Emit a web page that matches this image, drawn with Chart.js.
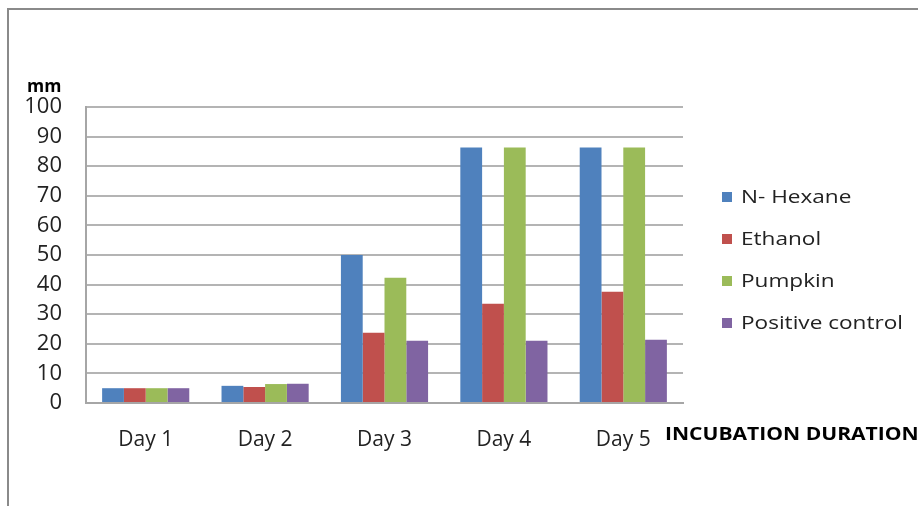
<!DOCTYPE html>
<html>
<head>
<meta charset="utf-8">
<script src="https://cdn.jsdelivr.net/npm/chart.js@4"></script>
<style>
  body { margin: 0; background: #fff; }
  #wrap { position: relative; width: 918px; height: 506px; overflow: hidden; font-family: "Open Sans", sans-serif; }
  #frame { position: absolute; left: 7px; top: 8px; width: 1000px; height: 600px; border-top: 2px solid #8a8a8a; border-left: 2px solid #8a8a8a; }
  #myChart { position: absolute; left: 0; top: 0; }
  .ylab { position: absolute; left: 27px; top: 73px; font-weight: bold; font-size: 17.5px; color: #000; }
  .xlab { position: absolute; left: 665px; top: 421px; font-weight: bold; font-size: 18px; color: #000; white-space: nowrap; transform: scaleX(1.17); transform-origin: left center; }
  #legend { position: absolute; left: 722px; top: 184px; }
  #legend div { height: 42px; font-size: 17.5px; color: #222; white-space: nowrap; }
  #legend span.box { display: inline-block; width: 10px; height: 10px; margin-right: 9px; vertical-align: 1px; }
  #legend span.txt { display: inline-block; transform: scaleX(1.29); transform-origin: left center; }
</style>
</head>
<body>
<div id="wrap">
  <div id="frame"></div>
  <canvas id="myChart" width="918" height="506"></canvas>
  <div class="ylab">mm</div>
  <div class="xlab">INCUBATION DURATION</div>
  <div id="legend"></div>
</div>
<script>
/* data */
const days = ['Day 1', 'Day 2', 'Day 3', 'Day 4', 'Day 5'];
const seriesNames = ['N- Hexane', 'Ethanol', 'Pumpkin', 'Positive control'];
const nHexane = [5, 5.8, 50, 86.3, 86.3];
const ethanol = [5, 5.4, 23.7, 33.5, 37.6];
const pumpkin = [5, 6.4, 42.3, 86.3, 86.3];
const positiveControl = [5, 6.5, 21, 21, 21.4];
const colors = ['#4F81BD', '#C0504D', '#9BBB59', '#8064A2'];
const yTicks = [0, 10, 20, 30, 40, 50, 60, 70, 80, 90, 100];

const allValues = [nHexane, ethanol, pumpkin, positiveControl];

/* graph script */
const ctx = document.getElementById('myChart');

new Chart(ctx, {
  type: 'bar',
  data: {
    labels: days,
    datasets: allValues.map((vals, i) => ({
      label: seriesNames[i],
      data: vals,
      backgroundColor: colors[i],
      borderWidth: 0,
      categoryPercentage: 0.73,
      barPercentage: 1
    }))
  },
  options: {
    responsive: false,
    animation: false,
    layout: { padding: { left: 0, top: 107, right: 235, bottom: 0 } },
    plugins: { legend: { display: false }, tooltip: { enabled: false } },
    scales: {
      x: {
        grid: { display: false, drawTicks: false },
        border: { color: '#a6a6a6', width: 2 },
        ticks: { color: '#222', font: { family: 'Open Sans', size: 21 }, padding: 24 },
        afterFit: s => { s.height = 103; }
      },
      y: {
        min: 0,
        max: 100,
        afterBuildTicks: s => { s.ticks = yTicks.map(v => ({ value: v })); },
        grid: { color: '#b4b4b4', lineWidth: 2, drawTicks: false },
        border: { color: '#a6a6a6', width: 2 },
        ticks: { color: '#222', font: { family: 'Open Sans', size: 22 }, padding: 24 },
        afterFit: s => { s.width = 86; }
      }
    }
  }
});

/* legend */
const legend = document.getElementById('legend');
seriesNames.forEach((name, i) => {
  const row = document.createElement('div');
  row.innerHTML = '<span class="box" style="background:' + colors[i] + '"></span><span class="txt">' + name + '</span>';
  legend.appendChild(row);
});
</script>
</body>
</html>
